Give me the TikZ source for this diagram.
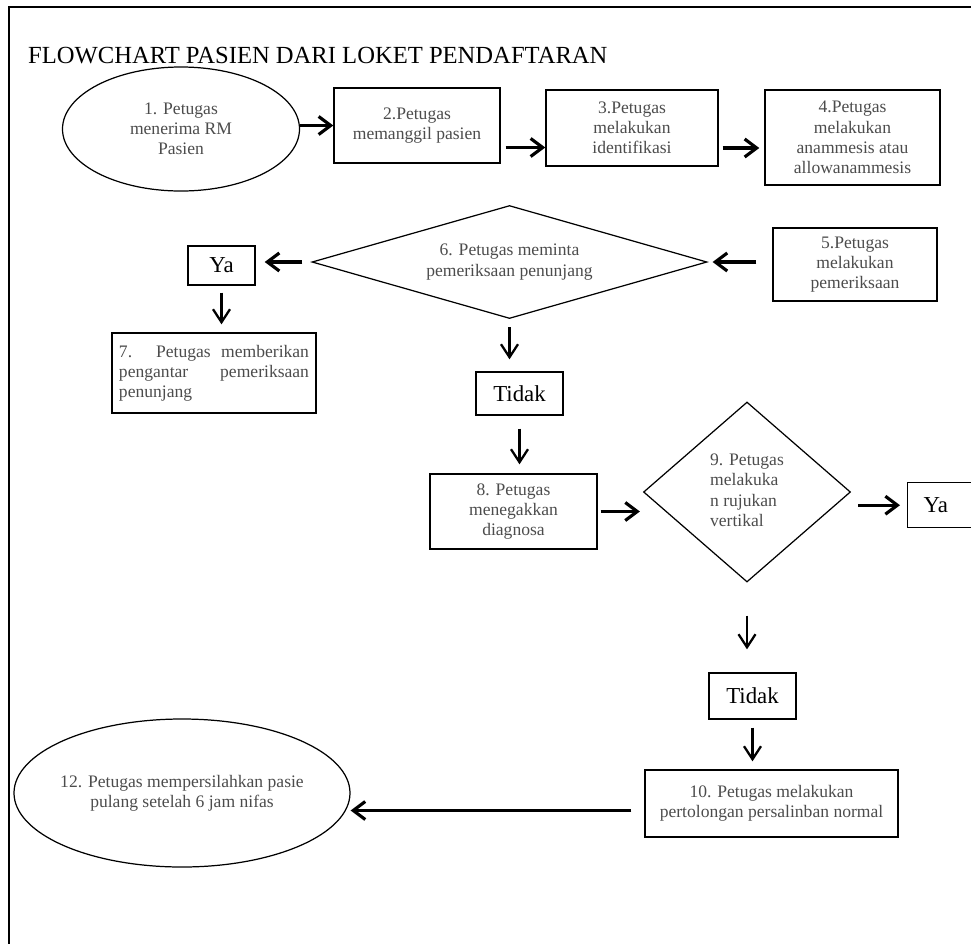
\documentclass[tikz,border=0pt]{standalone}
\usepackage{fontspec}
\setmainfont{Liberation Serif}
\usetikzlibrary{shapes.geometric,arrows.meta,calc}

\begin{document}
\begin{tikzpicture}[x=0.2mm,y=-0.2mm,
    every node/.style={font=\fontsize{10}{11.5}\selectfont},
    caja/.style={draw, line width=0.8pt, inner sep=0pt, align=center, text=black!70},
    elipse/.style={draw, ellipse, line width=0.7pt, inner sep=0pt, align=center, text=black!70},
    rombo/.style={draw, diamond, line width=0.7pt, inner sep=0pt, align=center, text=black!70},
    resp/.style={draw, line width=0.8pt, inner sep=0pt, font=\fontsize{13}{15}\selectfont},
    flecha/.style={line width=1.8pt, -{Straight Barb[length=2.4mm,width=3.6mm]}},
    flechav/.style={line width=1.3pt, -{Straight Barb[length=2.6mm,width=3.4mm]}}]

    % marco de la hoja
    \useasboundingbox (0,0) rectangle (971,943);
    \draw[line width=1.1pt] (9,950) -- (9,7) -- (980,7);

    % titulo
    \node[anchor=base west, font=\fontsize{14}{16}\selectfont] (titulo) at (22,63)
        {FLOWCHART PASIEN DARI LOKET PENDAFTARAN};

    % --- Fila superior: pasos 1 a 4 ---
    \node[elipse, minimum width=47.4mm, minimum height=24.8mm] (e1) at (181,129)
        {1. Petugas\\ menerima RM\\ Pasien};
    \node[caja, minimum width=33.2mm, minimum height=15mm] (b2) at (417,125.5)
        {2.Petugas\\ memanggil pasien};
    \node[caja, minimum width=34.4mm, minimum height=15.2mm] (b3) at (632,128)
        {3.Petugas\\ melakukan\\ identifikasi};
    \node[caja, minimum width=35mm, minimum height=19mm] (b4) at (852.5,137.5)
        {4.Petugas\\ melakukan\\ anammesis atau\\ allowanammesis};

    \draw[flecha] (e1.east |- b2.west) -- (b2.west);
    \draw[flecha, shorten <=1mm] ($(b2.east)+(0,22)$) coordinate (p23) -- (p23 -| b3.west);
    \draw[flecha, shorten <=0.8mm, shorten >=1mm] ($(b3.east)+(0,20)$) coordinate (p34) -- (p34 -| b4.west);

    % --- Segunda fila: pasos 5, 6 y 7 ---
    \node[caja, minimum width=32.8mm, minimum height=14.6mm] (b5) at (855,264.5)
        {5.Petugas\\ melakukan\\ pemeriksaan};
    \node[rombo, shape aspect=3.5, minimum width=79mm, minimum height=22.6mm] (d6) at (509.5,262)
        {6. Petugas meminta\\ pemeriksaan penunjang};
    \node[resp, minimum width=13.4mm, minimum height=7.8mm] (ya1) at (221.5,265.5) {Ya};
    \node[caja, minimum width=40.8mm, minimum height=16mm, text width=38mm, align=justify] (b7) at (214,373)
        {7. Petugas memberikan pengantar pemeriksaan \mbox{penunjang}};

    \draw[flecha, shorten <=3.2mm, shorten >=1mm] (b5.west |- d6.east) -- (d6.east);
    \draw[flecha, shorten <=1.8mm, shorten >=1.8mm] (d6.west) -- (d6.west -| ya1.east);
    \draw[flechav, shorten <=1.4mm, shorten >=1.6mm] (ya1.south) -- (ya1.south |- b7.north);

    % --- Rama "Tidak": pasos 8 y 9 ---
    \node[resp, minimum width=17.4mm, minimum height=8.6mm] (tidak1) at (519.5,393.5) {Tidak};
    \node[caja, minimum width=33.4mm, minimum height=15mm] (b8) at (513.5,511.5)
        {8. Petugas\\ menegakkan\\ diagnosa};
    \node[rombo, shape aspect=1.15, minimum width=41.4mm, minimum height=36mm] (d9) at (747,492)
        {\begin{tabular}{@{}l@{}}9. Petugas\\ melakuka\\ n rujukan\\ vertikal\end{tabular}};
    \node[resp, anchor=north west, inner xsep=3.2mm, text width=12mm, align=left,
          minimum height=9mm] (ya2) at (907,482) {Ya};

    \draw[flechav, shorten <=1.6mm, shorten >=2.4mm] (d6.south) -- (d6.south |- tidak1.north);
    \draw[flechav, shorten <=2.6mm, shorten >=1.8mm] (tidak1.south) -- (tidak1.south |- b8.north);
    \draw[flecha, shorten <=0.6mm, shorten >=0.6mm] (b8.east) -- (b8.east -| d9.west);
    \draw[flecha, shorten <=1.4mm, shorten >=1.4mm] (d9.east |- ya2.west) -- (ya2.west);

    % --- Parte inferior: pasos 10 y 12 ---
    \node[resp, minimum width=17.4mm, minimum height=9.2mm] (tidak2) at (752.5,696) {Tidak};
    \node[caja, minimum width=50.6mm, minimum height=13.4mm] (b10) at (771.5,803.5)
        {10. Petugas melakukan\\ pertolongan persalinban normal};
    \node[elipse, minimum width=67.2mm, minimum height=29.6mm,
          label={[align=center, text=black!70]center:12. Petugas mempersilahkan pasie\\ pulang setelah 6 jam nifas}]
        (e12) at (182,793) {};

    \draw[flechav, shorten <=6.6mm, shorten >=4.6mm] (d9.south) -- (d9.south |- tidak2.north);
    \draw[flechav, shorten <=1.6mm, shorten >=1.6mm] (tidak2.south) -- (tidak2.south |- b10.north);
    \draw[flecha, shorten <=2.6mm] ($(b10.west)+(0,7)$) coordinate (p1012) -- (p1012 -| e12.east);

\end{tikzpicture}
\end{document}
